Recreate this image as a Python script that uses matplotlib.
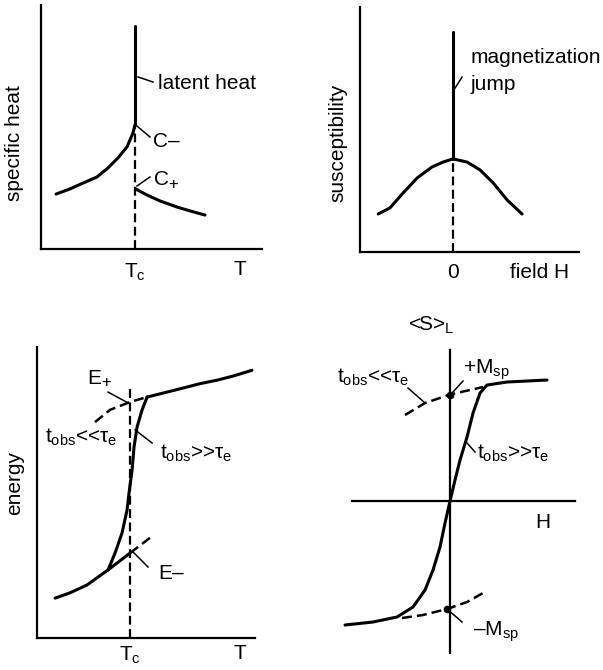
import matplotlib
matplotlib.use("Agg")
import matplotlib.pyplot as plt

plt.rcParams['font.family'] = ['Liberation Sans', 'DejaVu Sans']
plt.rcParams['mathtext.fontset'] = 'custom'
plt.rcParams['mathtext.rm'] = 'Liberation Sans'
plt.rcParams['mathtext.it'] = 'Liberation Sans'
plt.rcParams['mathtext.sf'] = 'Liberation Sans'
plt.rcParams['mathtext.default'] = 'regular'

# --- panel 1: specific heat vs T (schematic units 0..10) ---
tc1 = 4.25
c_minus = 5.08
latent_top = 9.14
cold_T = [0.68, 1.31, 1.90, 2.53, 3.03, 3.48, 3.89, 4.16, 4.25]
cold_C = [2.25, 2.46, 2.70, 2.95, 3.32, 3.73, 4.18, 4.75, 5.08]
hot_T = [4.28, 4.80, 5.38, 6.15, 6.74, 7.42]
hot_C = [2.46, 2.21, 1.97, 1.72, 1.56, 1.39]

# --- panel 2: susceptibility vs field H ---
jump_top = 8.98
bell_H = [-3.42, -2.88, -2.28, -1.64, -0.96, -0.46, 0.0, 0.64, 1.23, 1.83, 2.47, 3.15]
bell_chi = [1.55, 1.80, 2.41, 3.02, 3.47, 3.67, 3.80, 3.67, 3.35, 2.82, 2.12, 1.55]

# --- panel 3: energy vs T ---
tc3 = 4.27
upper_T = [5.05, 5.96, 6.70, 7.48, 8.26, 8.99, 9.86]
upper_E = [8.28, 8.45, 8.59, 8.74, 8.86, 9.00, 9.20]
upper_ext_T = [2.66, 3.35, 4.27, 5.05]
upper_ext_E = [7.42, 7.84, 8.11, 8.28]
steep_T = [5.05, 4.82, 4.59, 4.45, 4.36, 4.22, 4.13, 3.90, 3.58, 3.26]
steep_E = [8.28, 7.84, 7.25, 6.56, 5.77, 4.98, 4.40, 3.61, 2.92, 2.34]
lower_T = [0.83, 1.51, 2.29, 3.26]
lower_E = [1.37, 1.55, 1.82, 2.34]
lower_ext_T = [3.26, 4.27, 5.18]
lower_ext_E = [2.34, 2.92, 3.44]

# --- panel 4: <S>_L vs H ---
s_H = [-4.20, -3.08, -2.12, -1.48, -1.00, -0.68, -0.40, -0.20, 0.0, 0.20,
       0.40, 0.68, 0.92, 1.20, 1.48, 2.28, 3.88]
s_S = [-4.96, -4.84, -4.64, -4.24, -3.56, -2.76, -1.84, -0.88, 0.0, 0.84,
       1.64, 2.56, 3.52, 4.32, 4.64, 4.76, 4.84]
meta_up_H = [-1.80, -1.00, 0.0, 1.32]
meta_up_S = [3.44, 3.92, 4.26, 4.56]
meta_lo_H = [-1.92, -1.08, -0.12, 0.68, 1.32]
meta_lo_S = [-4.68, -4.56, -4.32, -4.04, -3.68]
m_sp = 4.26

LW = 2.2
AXLW = 1.6
DASH = (0, (4, 2))
FS = 15

fig = plt.figure(figsize=(6.03, 6.70), dpi=100)


def frame(ax, xlim, ylim):
    ax.set_xlim(*xlim)
    ax.set_ylim(*ylim)
    for s in ('top', 'right'):
        ax.spines[s].set_visible(False)
    for s in ('left', 'bottom'):
        ax.spines[s].set_linewidth(AXLW)
    ax.set_xticks([])
    ax.set_yticks([])
    ax.patch.set_alpha(0)


def curve(ax, xs, ys, dashed=False):
    if dashed:
        ax.plot(xs, ys, color='black', lw=1.8, ls=DASH)
    else:
        ax.plot(xs, ys, color='black', lw=LW, solid_capstyle='round',
                solid_joinstyle='round')


def leader(ax, xs, ys):
    ax.plot(xs, ys, color='black', lw=1.1, clip_on=False)


def label(ax, x, y, s, ha='left', **kw):
    ax.text(x, y, s, fontsize=FS, ha=ha, va='center', clip_on=False, **kw)


def plus_label(ax, x, y, letter):
    # letter with a lowered, slightly smaller "+"
    label(ax, x, y, letter)
    ax.annotate('+', (x, y), xytext=(10.5, -3), textcoords='offset points',
                fontsize=12, ha='left', va='center', annotation_clip=False)


# panel 1
ax1 = fig.add_axes([0.0680, 0.6284, 0.3665, 0.3642])
frame(ax1, (0, 10), (0, 10))
curve(ax1, [tc1, tc1], [c_minus, latent_top])
ax1.plot([tc1, tc1], [0, c_minus], color='black', lw=1.6, ls=DASH)
curve(ax1, cold_T, cold_C)
curve(ax1, hot_T, hot_C)
leader(ax1, [4.39, 5.07], [7.05, 6.84])
label(ax1, 5.29, 6.80, 'latent heat')
leader(ax1, [4.34, 4.93], [5.04, 4.59])
label(ax1, 5.07, 4.39, 'C–')
leader(ax1, [4.34, 4.93], [2.58, 2.95])
plus_label(ax1, 5.11, 2.83, 'C')
label(ax1, tc1, -0.94, r'$T_c$', ha='center')
label(ax1, 9.0, -0.86, 'T', ha='center')
ax1.text(-1.18, 4.34, 'specific heat', fontsize=FS, rotation=90,
         ha='center', va='center')

# panel 2
ax2 = fig.add_axes([0.5970, 0.6239, 0.3632, 0.3657])
frame(ax2, (-4.25, 5.75), (0, 10))
peak = max(bell_chi)
curve(ax2, [0, 0], [peak, jump_top])
ax2.plot([0, 0], [0, peak], color='black', lw=1.6, ls=DASH)
curve(ax2, bell_H, bell_chi)
leader(ax2, [0.09, 0.41], [6.69, 7.14])
label(ax2, 0.78, 7.92, 'magnetization')
label(ax2, 0.78, 6.82, 'jump')
label(ax2, 0, -0.82, '0', ha='center')
label(ax2, 2.60, -0.82, 'field H')
ax2.text(-5.25, 4.45, 'susceptibility', fontsize=FS, rotation=90,
         ha='center', va='center')

# panel 3
ax3 = fig.add_axes([0.0614, 0.0478, 0.3615, 0.4343])
frame(ax3, (0, 10), (0, 10))
ax3.plot([tc3, tc3], [0, 8.59], color='black', lw=1.6, ls=DASH)
curve(ax3, upper_T, upper_E)
curve(ax3, upper_ext_T, upper_ext_E, dashed=True)
curve(ax3, steep_T, steep_E)
curve(ax3, lower_T, lower_E)
curve(ax3, lower_ext_T[:2], lower_ext_E[:2])
curve(ax3, lower_ext_T[1:], lower_ext_E[1:], dashed=True)
leader(ax3, [3.26, 4.27], [8.45, 8.04])
plus_label(ax3, 2.30, 8.93, 'E')
label(ax3, 0.37, 6.91, r'$t_{obs}$<<$\tau_e$')
leader(ax3, [4.50, 5.28], [7.15, 6.70])
label(ax3, 5.64, 6.36, r'$t_{obs}$>>$\tau_e$')
leader(ax3, [4.40, 5.09], [2.96, 2.44])
label(ax3, 5.55, 2.23, 'E–')
label(ax3, tc3, -0.58, r'$T_c$', ha='center')
label(ax3, 9.31, -0.52, 'T', ha='center')
ax3.text(-1.01, 5.33, 'energy', fontsize=FS, rotation=90,
         ha='center', va='center')

# panel 4
ax4 = fig.add_axes([0.5473, 0.0, 0.4312, 0.5522])
ax4.set_xlim(-4.8, 5.6)
ax4.set_ylim(-6.76, 8.04)
ax4.set_xticks([])
ax4.set_yticks([])
ax4.patch.set_alpha(0)
for s in ('top', 'right'):
    ax4.spines[s].set_visible(False)
ax4.spines['left'].set_position(('data', 0))
ax4.spines['bottom'].set_position(('data', 0))
ax4.spines['left'].set_bounds(-6.08, 6.04)
ax4.spines['bottom'].set_bounds(-3.92, 5.0)
for s in ('left', 'bottom'):
    ax4.spines[s].set_linewidth(AXLW)
curve(ax4, s_H, s_S)
curve(ax4, meta_up_H, meta_up_S, dashed=True)
curve(ax4, meta_lo_H, meta_lo_S, dashed=True)
ax4.plot([0, -0.12], [m_sp, -4.32], 'o', color='black', ms=4.5)
label(ax4, -0.76, 7.04, r'<S>$_L$', ha='center')
leader(ax4, [0.08, 0.52], [4.32, 4.80])
label(ax4, 0.52, 5.24, r'+$M_{sp}$')
leader(ax4, [-1.68, -1.0], [4.52, 3.92])
label(ax4, -4.52, 4.96, r'$t_{obs}$<<$\tau_e$')
leader(ax4, [0.68, 1.0], [2.32, 1.96])
label(ax4, 1.08, 1.92, r'$t_{obs}$>>$\tau_e$')
label(ax4, 3.72, -0.84, 'H', ha='center')
leader(ax4, [-0.12, 0.48], [-4.32, -4.84])
label(ax4, 0.92, -5.24, r'–$M_{sp}$')

fig.savefig('out.png', dpi=100)
